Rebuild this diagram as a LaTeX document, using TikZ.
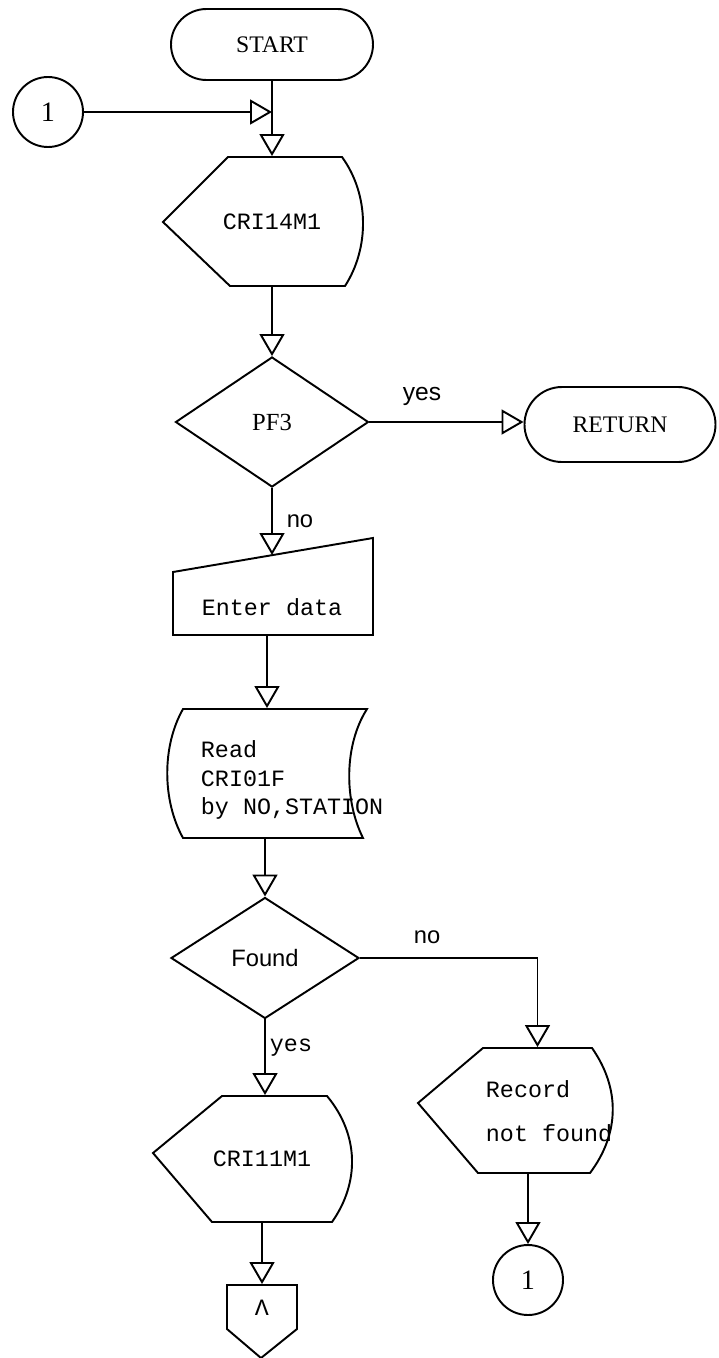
\documentclass[tikz,border=0pt]{standalone}
\usepackage{fontspec}
\setmainfont{Liberation Serif}
\setsansfont{Liberation Sans}
\setmonofont{Liberation Mono}
\usetikzlibrary{arrows.meta,shapes.geometric,shapes.misc}

\newcommand{\chartserif}{\fontsize{13.5}{15}\selectfont}
\newcommand{\chartsans}{\sffamily\fontsize{13.5}{16}\selectfont}
\newcommand{\chartmono}{\ttfamily\fontsize{13.3}{16}\selectfont}
\newcommand{\chartmonowide}{\ttfamily\fontsize{13.3}{25}\selectfont}

\begin{document}
\begin{tikzpicture}[x=2mm,y=2mm,line width=1.1pt,every text node part/.style={align=left}]
\tikzstyle{every node}+=[inner sep=0pt]
\tikzstyle{term}=[draw,rounded rectangle,font=\chartserif]
\tikzstyle{dec}=[draw,diamond,font=\fontsize{14}{16}\selectfont]
\tikzstyle{conn}=[draw,circle,minimum size=14mm,font=\fontsize{16}{18}\selectfont]
\tikzstyle{box}=[rectangle,font=\chartmono]
\tikzstyle{lbl}=[font=\chartsans]
\tikzstyle{flow}=[-{Triangle[open,length=4.4mm,width=5mm]}]
\useasboundingbox (0,0) rectangle (71.9,-135.8);
% start
\node [term,minimum width=40.4mm,minimum height=14.2mm] (start) at (27.2,-4.45) {START};
\node [conn] (contop) at (4.8,-11.2) {1};
\draw [flow] (contop.east) -- (contop.east -| start.south);
% CRI14M1
\node [box,minimum width=22mm,minimum height=25.8mm] (cri14) at (27.2,-22.15) {CRI14M1};
\draw (16.3,-22.2) -- (22.8,-15.7) -- (34.2,-15.7) .. controls (36.95,-19.5) and (36.95,-24.8) .. (34.5,-28.6) -- (23.0,-28.6) -- cycle;
\draw [flow] (start.south) -- (cri14.north);
% PF3
\node [dec,minimum width=38.6mm,minimum height=26mm] (pf3) at (27.2,-42.2) {PF3};
\draw [flow] (cri14.south) -- (pf3.north);
\node [term,minimum width=38.2mm,minimum height=15mm] (ret) at (62.0,-42.45) {RETURN};
\draw [flow] (pf3.east) -- (pf3.east -| ret.west);
\node [lbl,font=\sffamily\fontsize{14}{16}\selectfont] (yesret) at (42.2,-39.6) {yes};
\node [lbl] (noenter) at (30.0,-52.1) {no};
% enter data
\coordinate (entertop) at (27.2,-55.5);
\node [box,minimum width=30mm,minimum height=11.2mm] (enter) at (27.2,-60.7) {Enter data};
\draw (17.3,-57.2) -- (37.3,-53.8) -- (37.3,-63.5) -- (17.3,-63.5) -- cycle;
\draw [flow] (pf3.south) -- (entertop);
% read file
\node [box,minimum width=30mm,minimum height=25.8mm] (read) at (26.7,-77.35) {};
\draw (18.3,-70.9) -- (36.7,-70.9) .. controls (34.4,-74.5) and (34.4,-80.0) .. (36.3,-83.8) -- (18.3,-83.8) .. controls (16.2,-80.0) and (16.2,-74.6) .. (18.3,-70.9) -- cycle;
\node [box,anchor=west] (readtxt) at (20.0,-78.0) {Read\\CRI01F\\by NO,STATION};
\draw [flow] (enter.south -| read.north) -- (read.north);
% found
\node [dec,font=\chartsans,minimum width=37.6mm,minimum height=24.2mm] (found) at (26.5,-95.8) {Found};
\draw [flow] (read.south -| found.north) -- (found.north);
\node [lbl] (norec) at (42.7,-93.7) {no};
\node [box] (yescri) at (29.1,-104.8) {yes};
% CRI11M1
\node [box,minimum width=20mm,minimum height=25.2mm] (cri11) at (26.2,-115.9) {CRI11M1};
\draw (15.3,-115.3) -- (22.2,-109.6) -- (32.7,-109.6) .. controls (35.95,-113.5) and (35.95,-118.3) .. (33.2,-122.2) -- (21.2,-122.2) -- cycle;
\draw [flow] (found.south) -- (found.south |- cri11.north);
% off page
\node [box,minimum width=14mm,minimum height=9mm] (offpg) at (26.2,-130.75) {Λ};
\draw (22.7,-128.5) -- (29.7,-128.5) -- (29.7,-132.9) -- (26.1,-135.8) -- (22.7,-132.9) -- cycle;
\draw [flow] (cri11.south) -- (offpg.north);
% record not found
\node [box,minimum width=22mm,minimum height=25mm] (rec) at (53.75,-111.05) {};
\draw (41.8,-110.3) -- (48.3,-104.8) -- (59.2,-104.8) .. controls (62.0,-108.8) and (62.0,-113.3) .. (59.0,-117.3) -- (47.8,-117.3) -- cycle;
\node [box,anchor=west,font=\chartmonowide] (rectxt) at (48.5,-111.1) {Record\\not found};
\draw [flow] (found.east) -| (rec.north);
\node [conn] (conbot) at (52.8,-128.0) {1};
\draw [flow] (rec.south -| conbot.north) -- (conbot.north);
\end{tikzpicture}
\end{document}
